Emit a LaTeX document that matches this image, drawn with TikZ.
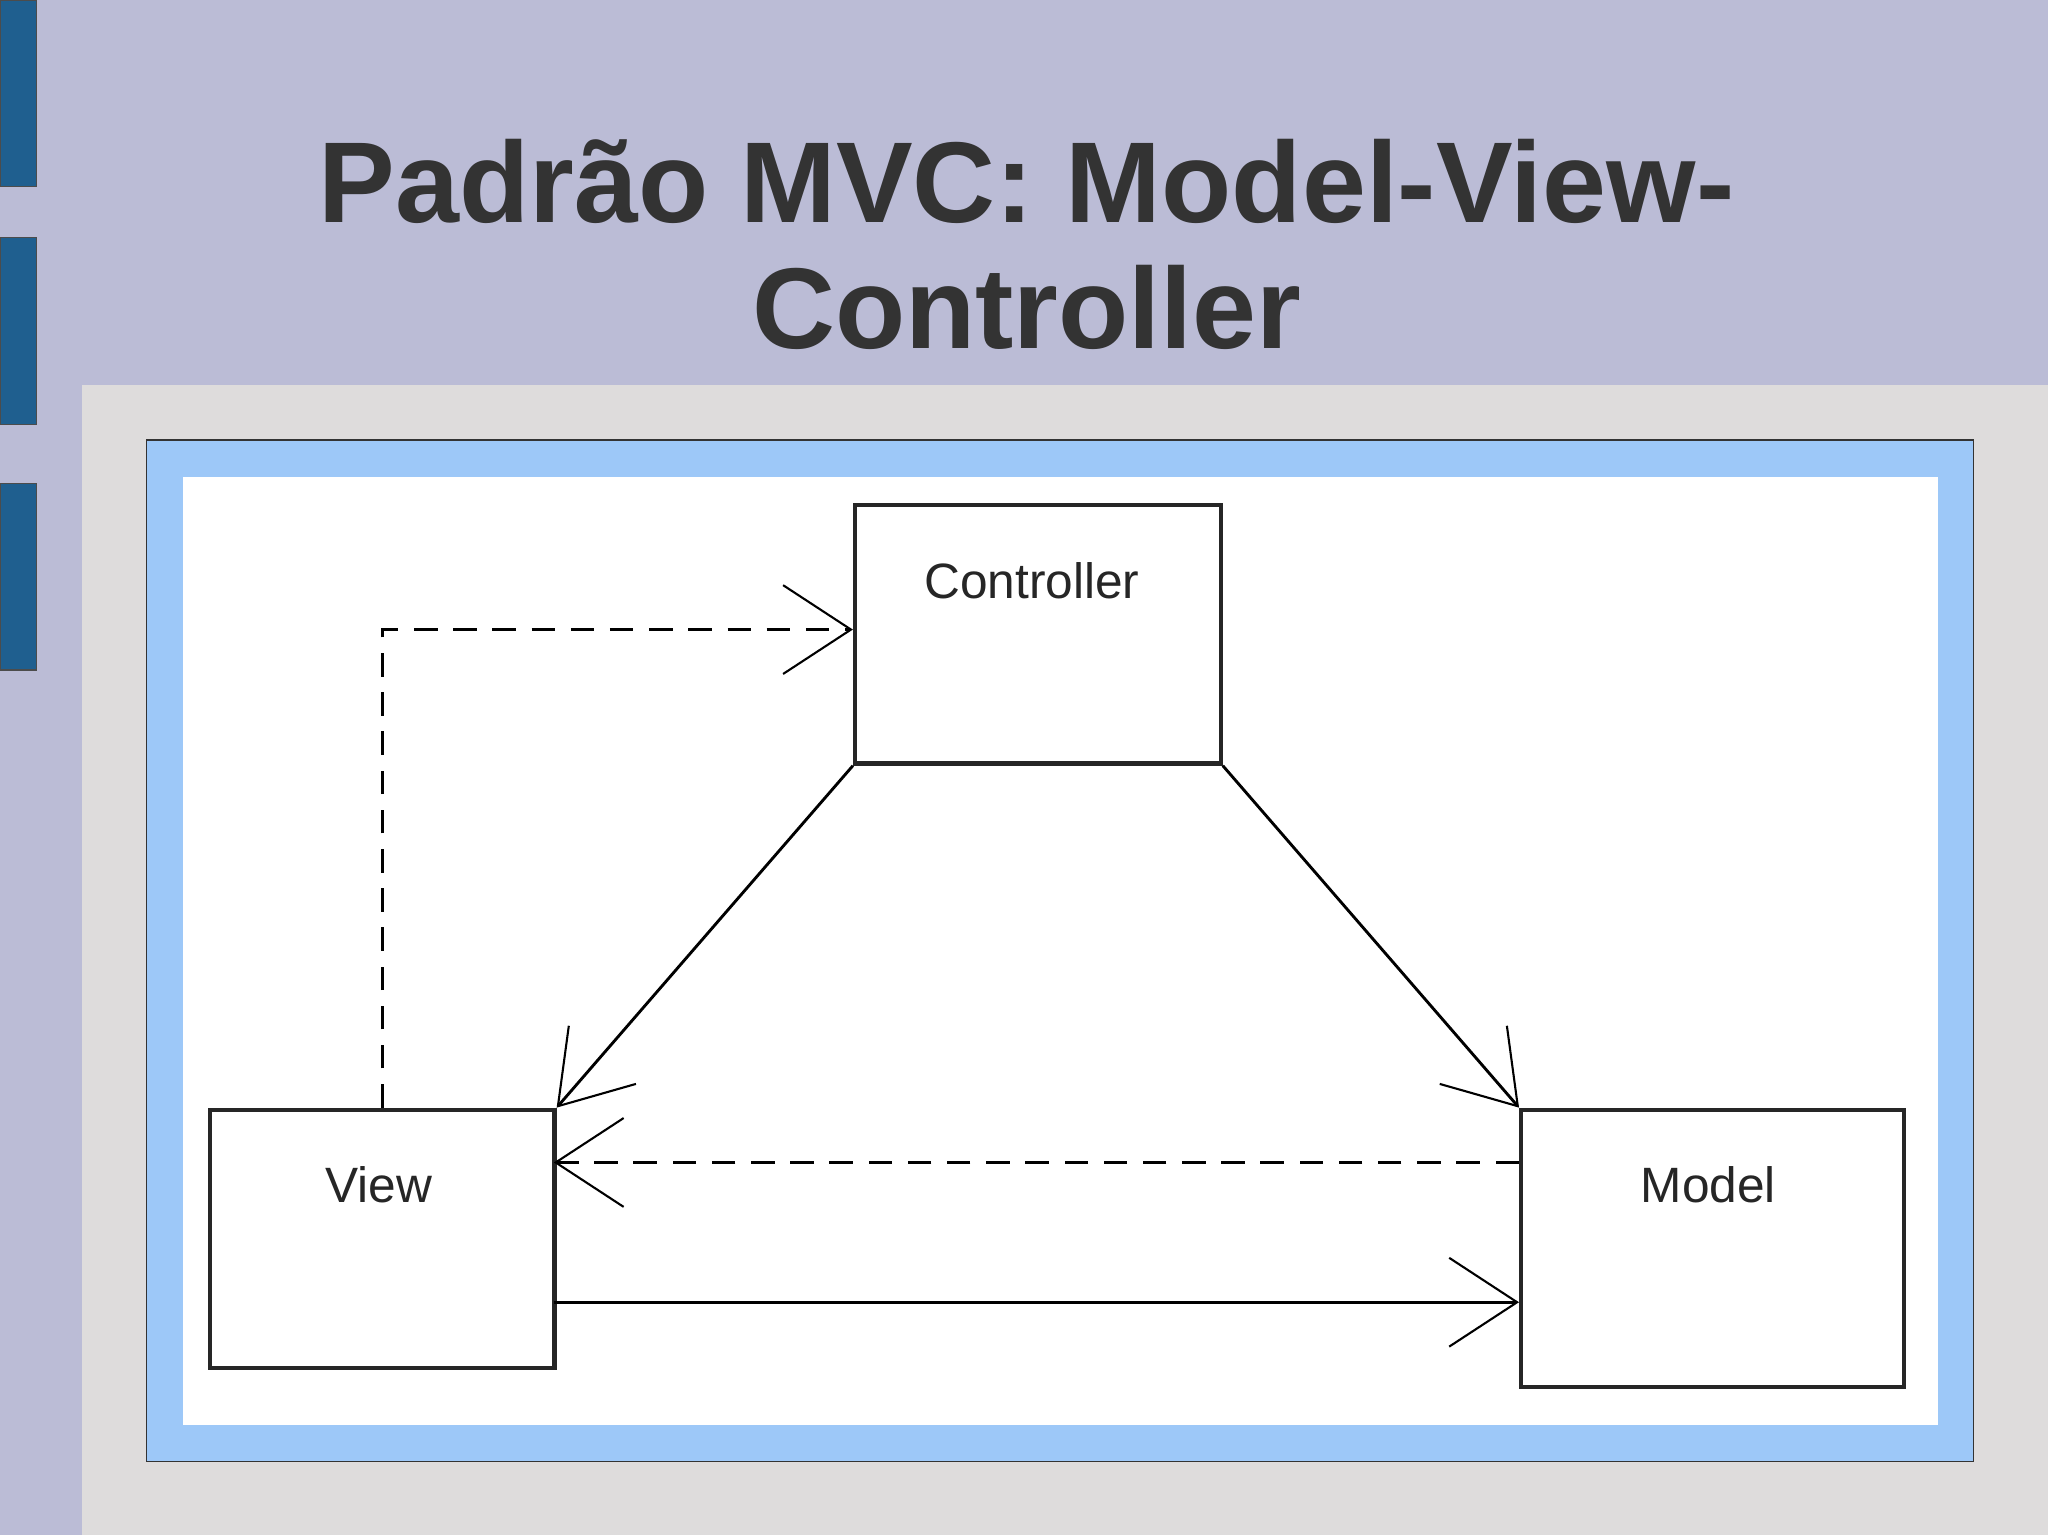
\documentclass[tikz,border=0pt]{standalone}
\usepackage{fontspec}
\setmainfont{Liberation Sans}
\usetikzlibrary{arrows.meta}
\definecolor{lav}{HTML}{BBBCD6}
\definecolor{barblue}{HTML}{1F5F8F}
\definecolor{panel}{HTML}{DEDCDC}
\definecolor{frameblue}{HTML}{9DC8F8}
\definecolor{titlec}{HTML}{333333}
\tikzset{
  umlbox/.style={draw=black!85, line width=1.6pt, fill=white, inner sep=0pt, anchor=north west},
  lbl/.style={font=\fontsize{19}{22}\selectfont, text=black!85},
  conn/.style={line width=1.1pt, -{Straight Barb[length=26pt,width=34pt,line width=0.8pt]}},
  dconn/.style={conn, dash pattern=on 9pt off 6pt}
}
\begin{document}
\begin{tikzpicture}[x=0.5pt,y=-0.5pt]
\fill[lav] (0,0) rectangle (1568,1175);
\useasboundingbox (0,0) rectangle (1568,1175);
\foreach \a/\b in {0/143,182/325,370/513}
  \fill[barblue, draw=black!70, line width=0.5pt] (0,\a) rectangle (28,\b);
\fill[panel] (63,295) rectangle (1568,1175);
\draw[fill=frameblue, draw=black!80, line width=0.6pt] (112,337) rectangle (1511,1119);
\fill[white] (140,365) rectangle (1484,1091);
\node[text=titlec, font=\bfseries\fontsize{44}{48}\selectfont, align=center] (title) at (786,187) {Padrão MVC: Model-View-\\Controller};
\node[umlbox, minimum width=140pt, minimum height=99pt] (ctrl) at (653,385) {};
\node[umlbox, minimum width=132pt, minimum height=99pt] (view) at (159,848) {};
\node[umlbox, minimum width=146.5pt, minimum height=106pt] (model) at (1163,848) {};
\node[lbl] (tc) at (790,445) {Controller};
\node[lbl] (tv) at (290,907) {View};
\node[lbl] (tm) at (1308,907) {Model};
\coordinate (vtop) at (293,848);
\coordinate (corner) at (293,482);
\coordinate (cin) at (653,482);
\draw[dconn] (vtop) -- (corner) -- (cin);
\draw[conn] (ctrl.south west) -- (view.north east);
\draw[conn] (ctrl.south east) -- (model.north west);
\coordinate (md) at (1163,890);
\coordinate (vd) at (424,890);
\draw[dconn] (md) -- (vd);
\coordinate (vs) at (424,997);
\coordinate (ms) at (1163,997);
\draw[conn] (vs) -- (ms);
\end{tikzpicture}
\end{document}
